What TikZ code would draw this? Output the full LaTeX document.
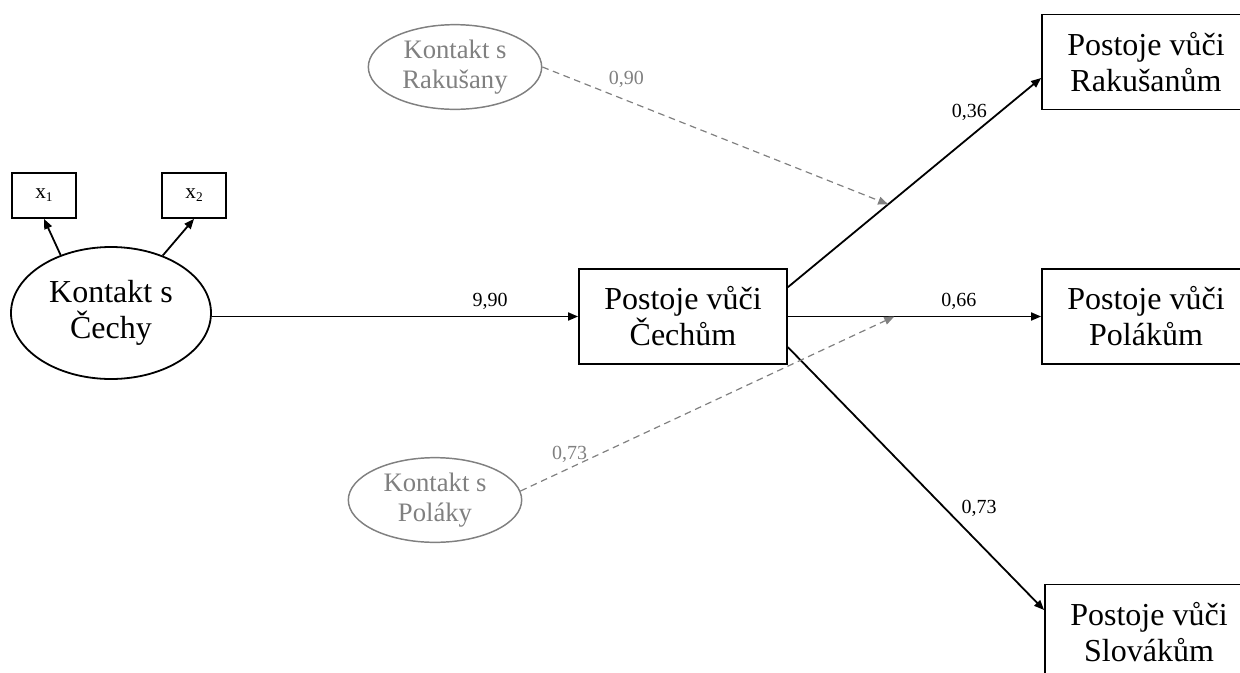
\documentclass[tikz,border=0pt]{standalone}
\usepackage{fontspec}
\setmainfont{Liberation Serif}
\usetikzlibrary{shapes.geometric,arrows.meta}
\definecolor{modgray}{RGB}{128,128,128}
\newcommand{\indsub}[1]{\raisebox{-0.3ex}{\fontsize{10}{10}\selectfont #1}}
\begin{document}
\begin{tikzpicture}[x=0.75pt,y=-0.75pt,
  every node/.style={inner sep=0pt},
  box/.style={draw,line width=1.35pt,minimum width=156pt,minimum height=71.25pt,
    align=center,font=\fontsize{24}{27}\selectfont},
  ind/.style={draw,line width=1.35pt,minimum width=48pt,minimum height=33.75pt,
    font=\fontsize{16}{18}\selectfont},
  latent/.style={draw,ellipse,line width=1.35pt,minimum width=150pt,minimum height=99pt,
    align=center,font=\fontsize{24}{27}\selectfont},
  moder/.style={draw=modgray,text=modgray,ellipse,line width=1.1pt,minimum width=130pt,
    minimum height=63.5pt,align=center,font=\fontsize{20}{23}\selectfont},
  lab/.style={font=\fontsize{15}{18}\selectfont,text=black},
  glab/.style={font=\fontsize{15}{18}\selectfont,text=modgray},
  arr/.style={line width=1.35pt,-{Triangle[length=7.5pt,width=6pt]}},
  darr/.style={modgray,line width=0.9pt,dash pattern=on 5pt off 3.5pt,
    -{Triangle[length=7.5pt,width=6pt]}}]

\useasboundingbox (0,0) rectangle (1240,672);
\clip (0,0) rectangle (1240,672);

% latent predictor and its indicators
\node[latent] (ce) at (111,313) {Kontakt s\\Čechy};
\node[ind] (x1) at (44,195.5) {\raisebox{-0.4ex}{x\indsub{1}}};
\node[ind] (x2) at (194,195.5) {\raisebox{-0.4ex}{x\indsub{2}}};

% attitude boxes
\node[box] (cb) at (683,316.5) {Postoje vůči\\Čechům};
\node[box] (rb) at (1146,62) {Postoje vůči\\Rakušanům};
\node[box] (pb) at (1146,316.5) {Postoje vůči\\Polákům};
\node[box] (sb) at (1149,632) {Postoje vůči\\Slovákům};

% moderators
\node[moder] (re) at (455,67) {Kontakt s\\Rakušany};
\node[moder] (pe) at (435,500) {Kontakt s\\Poláky};

% measurement paths
\draw[arr] (ce.131) -- (x1.south);
\draw[arr] (ce.48) -- (x2.south);

% structural paths
\draw[arr] (cb.west -| ce.east) -- (cb.west)
  node[lab,pos=0.76,above=4.5pt] {9,90};
\draw[arr] ([yshift=22pt]cb.east) -- coordinate[pos=0.396] (m1) ([yshift=-12pt]rb.west)
  node[lab,pos=0.8,anchor=south east,xshift=-2pt,yshift=-1.5pt] {0,36};
\draw[arr] (cb.east) -- coordinate[pos=0.42] (m2) (cb.east -| pb.west)
  node[lab,pos=0.675,above=4.5pt] {0,66};
\draw[arr] ([yshift=-23pt]cb.east) -- ([yshift=16.5pt]sb.west)
  node[lab,pos=0.612,right=12pt] {0,73};

% moderating effects
\draw[darr] (re.east) -- (m1)
  node[glab,pos=0.243,above=9pt] {0,90};
\draw[darr] (pe.6) -- (m2)
  node[glab,pos=0.18,anchor=base east] {0,73};
\end{tikzpicture}
\end{document}
